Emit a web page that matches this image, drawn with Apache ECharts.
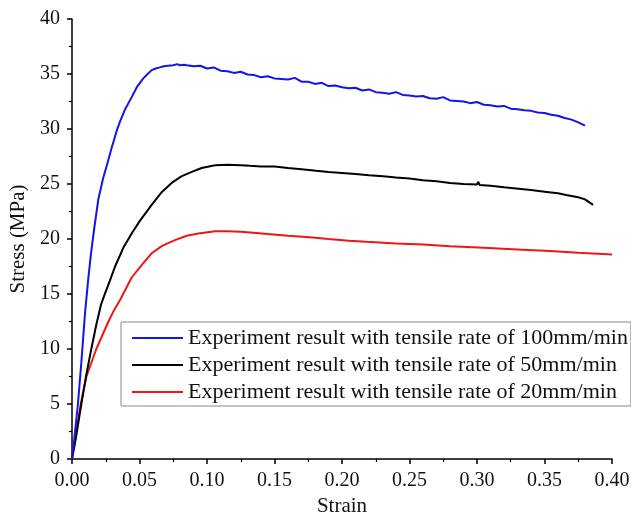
<!DOCTYPE html>
<html>
<head>
<meta charset="utf-8">
<script src="https://cdn.jsdelivr.net/npm/echarts@6/dist/echarts.min.js"></script>
<style>html,body{margin:0;padding:0;background:#fff;}#c{width:631px;height:515px;}</style>
</head>
<body>
<div id="c"></div>
<script>
const xTicks = [0, 0.4, 0.05];
const yTicks = [0, 40, 5];
const seriesNames = [
  'Experiment result with tensile rate of 100mm/min',
  'Experiment result with tensile rate of 50mm/min',
  'Experiment result with tensile rate of 20mm/min'
];
const rate100 = [
  [0,0],[0.002,2.2],[0.0044,5.0],[0.007,8.9],[0.0096,13.2],[0.012,16.3],[0.014,18.6],[0.0165,21.0],
  [0.0195,23.6],[0.023,25.5],[0.0265,27.0],[0.0294,28.3],[0.033,29.8],[0.0356,30.7],[0.039,31.7],
  [0.0442,32.9],[0.048,33.8],[0.0528,34.6],[0.056,35.0],[0.059,35.35],[0.062,35.5],[0.065,35.6],
  [0.068,35.7],[0.071,35.75],[0.075,35.8],[0.078,35.9],[0.08,35.8],[0.083,35.85],
  [0.085,35.8],[0.09,35.7],[0.095,35.75],[0.10,35.5],[0.105,35.6],[0.11,35.3],[0.115,35.25],
  [0.12,35.1],[0.125,35.2],[0.13,34.95],[0.135,34.9],[0.14,34.7],[0.145,34.8],[0.15,34.6],
  [0.155,34.55],[0.16,34.5],[0.165,34.65],[0.17,34.3],[0.175,34.3],[0.18,34.1],[0.185,34.2],
  [0.19,33.9],[0.195,33.95],[0.20,33.8],[0.205,33.7],[0.21,33.75],[0.215,33.5],[0.22,33.6],
  [0.225,33.35],[0.23,33.3],[0.235,33.2],[0.24,33.35],[0.245,33.1],[0.25,33.05],[0.255,32.95],
  [0.26,33.0],[0.265,32.8],[0.27,32.75],[0.275,32.9],[0.28,32.6],[0.285,32.55],[0.29,32.5],
  [0.295,32.35],[0.30,32.45],[0.305,32.2],[0.31,32.15],[0.315,32.05],[0.32,32.1],[0.325,31.85],
  [0.33,31.8],[0.335,31.7],[0.34,31.65],[0.345,31.5],[0.35,31.45],[0.355,31.3],[0.36,31.2],
  [0.365,31.0],[0.37,30.85],[0.375,30.6],[0.38,30.3]
];
const rate50 = [
  [0,0],[0.003,2.0],[0.0069,5.0],[0.0105,7.6],[0.0143,10.0],[0.018,12.2],[0.0214,14.0],[0.024,14.9],
  [0.028,16.2],[0.0319,17.5],[0.038,19.2],[0.0442,20.5],[0.05,21.6],[0.059,23.1],[0.066,24.2],
  [0.0738,25.1],[0.081,25.7],[0.0887,26.1],[0.096,26.45],[0.106,26.7],[0.115,26.75],[0.125,26.7],
  [0.132,26.65],[0.14,26.6],[0.15,26.6],[0.16,26.45],[0.17,26.35],[0.181,26.2],[0.19,26.1],
  [0.20,26.0],[0.21,25.9],[0.22,25.8],[0.2306,25.7],[0.24,25.6],[0.25,25.5],[0.26,25.35],
  [0.27,25.25],[0.28,25.1],[0.29,25.0],[0.30,24.95],[0.301,25.2],[0.302,24.9],[0.31,24.85],
  [0.32,24.7],[0.329,24.6],[0.34,24.45],[0.35,24.3],[0.36,24.15],[0.366,24.0],[0.375,23.8],
  [0.38,23.6],[0.386,23.1]
];
const rate20 = [
  [0,0],[0.0032,2.5],[0.0065,5.0],[0.0107,7.5],[0.018,10.0],[0.027,12.5],[0.0306,13.4],[0.0356,14.45],
  [0.0442,16.5],[0.052,17.7],[0.059,18.7],[0.067,19.4],[0.0763,19.9],[0.085,20.3],[0.0936,20.5],
  [0.106,20.7],[0.115,20.7],[0.125,20.65],[0.132,20.6],[0.145,20.45],[0.16,20.3],[0.176,20.15],
  [0.19,20.0],[0.205,19.85],[0.218,19.75],[0.24,19.6],[0.26,19.5],[0.28,19.35],[0.305,19.2],
  [0.33,19.05],[0.354,18.9],[0.375,18.75],[0.40,18.6]
];
const colors = ['#1414e6', '#000000', '#ee1515'];
const FONT = '"Liberation Serif", "Times New Roman", serif';

const chart = echarts.init(document.getElementById('c'), null, {renderer: 'canvas'});
const axisCommon = {
  axisLine: {show: true, onZero: false, lineStyle: {color: '#000', width: 1.5}},
  axisTick: {show: true, inside: false, length: 5, lineStyle: {color: '#000', width: 1.5}},
  minorTick: {show: true, splitNumber: 2, length: 3, lineStyle: {color: '#000', width: 1.2}},
  splitLine: {show: false},
  nameTextStyle: {fontFamily: FONT, fontSize: 21, color: '#111'}
};
chart.setOption({
  animation: false,
  backgroundColor: '#fff',
  grid: {left: 72, right: 19, top: 19, bottom: 56, containLabel: false, outerBoundsMode: 'none'},
  xAxis: Object.assign({}, axisCommon, {
    type: 'value', min: xTicks[0], max: xTicks[1], interval: xTicks[2],
    name: 'Strain', nameLocation: 'middle', nameGap: 37,
    axisLabel: {fontFamily: FONT, fontSize: 20, color: '#111', margin: 12,
      formatter: v => v.toFixed(2)}
  }),
  yAxis: Object.assign({}, axisCommon, {
    type: 'value', min: yTicks[0], max: yTicks[1], interval: yTicks[2],
    name: 'Stress (MPa)', nameLocation: 'middle', nameGap: 37,
    axisLabel: {fontFamily: FONT, fontSize: 20, color: '#111', margin: 12}
  }),
  legend: {
    orient: 'vertical', left: 121, top: 322,
    padding: [5, 3, 3, 11], itemGap: 5,
    itemWidth: 51, itemHeight: 2, icon: 'rect',
    borderColor: '#888', borderWidth: 1, backgroundColor: '#fff',
    textStyle: {fontFamily: FONT, fontSize: 22, color: '#111'},
    data: seriesNames
  },
  series: [rate100, rate50, rate20].map((d, i) => ({
    name: seriesNames[i], type: 'line', data: d, symbol: 'none', smooth: false,
    color: colors[i], lineStyle: {color: colors[i], width: 2}, z: 3 - i
  }))
});
</script>
</body>
</html>
